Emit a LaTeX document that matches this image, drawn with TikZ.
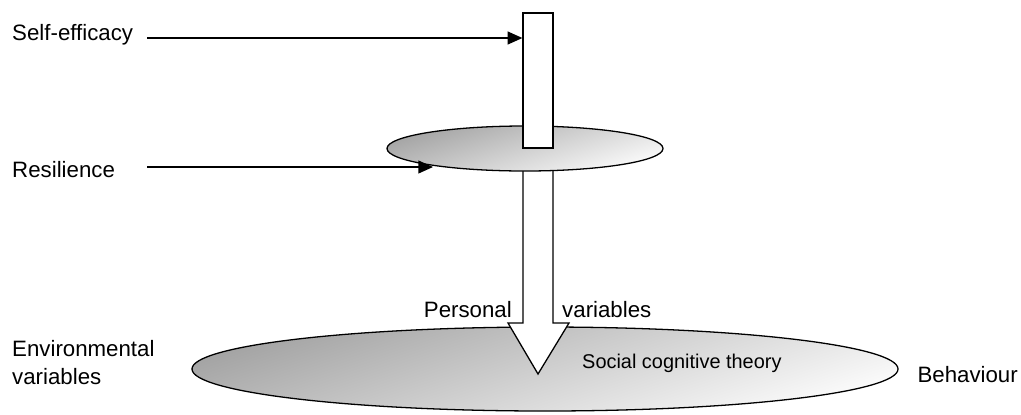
\documentclass[tikz,border=0pt]{standalone}
\usepackage{fontspec}
\setmainfont{Liberation Sans}
\usetikzlibrary{arrows.meta,shapes.geometric}
\tikzset{
  lbl/.style={font=\fontsize{19}{23.8}\selectfont, inner sep=0pt},
  disc/.style={ellipse, draw, line width=1.1pt, inner sep=0pt,
    top color=gray!72, bottom color=gray!3, shading angle=18},
  bar/.style={rectangle, draw, fill=white, line width=1.1pt, inner sep=0pt,
    minimum width=0.9cm, minimum height=4.05cm},
  feed/.style={line width=1.1pt, -{Triangle[length=12.5pt,width=11pt]}}
}
\begin{document}
\begin{tikzpicture}[x=0.03cm,y=-0.03cm]
  \useasboundingbox (0,0) rectangle (1021,414);
  % social cognitive theory (bottom disc)
  \node[disc, minimum width=21.18cm, minimum height=2.52cm] (sct) at (545,369) {};
  % personal variables arrow
  \draw[line width=1.1pt, fill=white] (523,148) -- (523,323) -- (508,323)
    -- (538,374) -- (569,323) -- (553,323) -- (553,148) -- cycle;
  % resilience disc and self-efficacy bar
  \node[disc, minimum width=8.28cm, minimum height=1.35cm] (res) at (525,148.5) {};
  \node[bar] (bar) at (538,80.5) {};
  % labels
  \node[lbl, anchor=base west] (selfeff) at (12,40) {Self-efficacy};
  \node[lbl, anchor=base west] (resil) at (12,177) {Resilience};
  \node[lbl, anchor=north west, align=left] (env) at (12,340) {Environmental\\variables};
  \node[lbl, anchor=base east] (pers) at (512,317) {Personal};
  \node[lbl, anchor=base west] (vars) at (562,317) {variables};
  \node[lbl, anchor=base west, font=\fontsize{17}{20}\selectfont] (theory) at (582,368) {Social cognitive theory};
  \node[lbl, anchor=base east] (beh) at (1018,382) {Behaviour};
  % inputs
  \coordinate (se) at (147,38);
  \coordinate (rs) at (147,167);
  \coordinate (rt) at (433,167);
  \draw[feed] (se) -- (se -| bar.west);
  \draw[feed] (rs) -- (rt);
\end{tikzpicture}
\end{document}
